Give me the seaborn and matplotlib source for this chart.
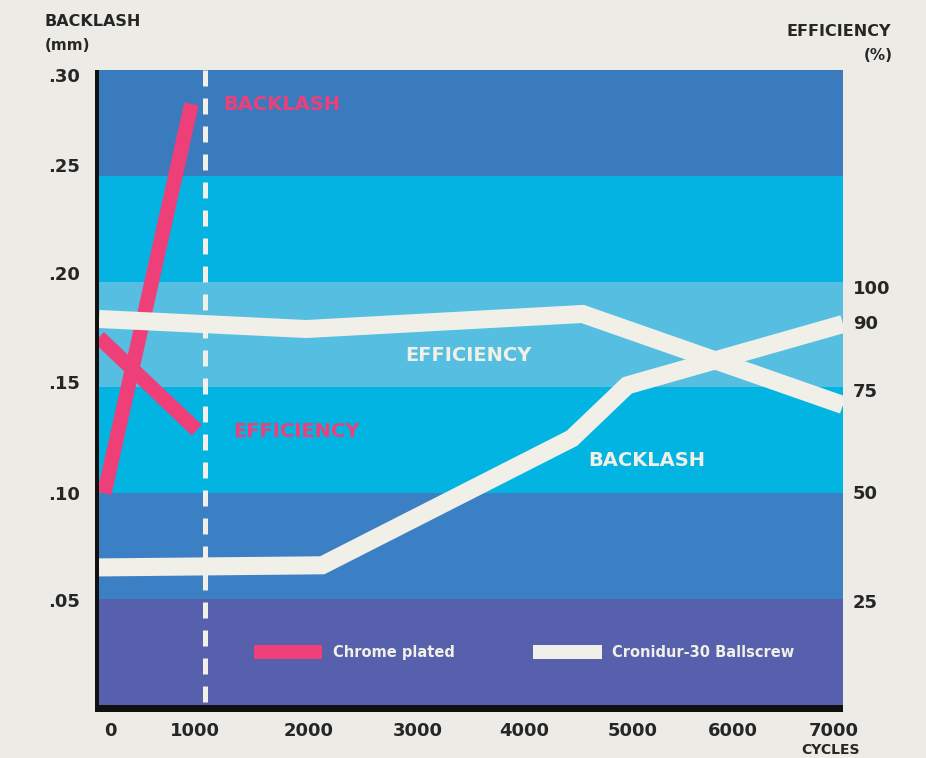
import matplotlib
matplotlib.use("Agg")
import matplotlib.pyplot as plt
from matplotlib.patches import Rectangle, Patch
from matplotlib.transforms import ScaledTranslation
import pandas as pd
import seaborn as sns

# ---- axis ticks -------------------------------------------------------------
cycle_ticks = [0, 1000, 2000, 3000, 4000, 5000, 6000, 7000]
backlash_ticks = [0.05, 0.10, 0.15, 0.20, 0.25, 0.30]
backlash_tick_labels = [".05", ".10", ".15", ".20", ".25", ".30"]
efficiency_ticks = [25, 50, 75, 90, 100]

# ---- test results -----------------------------------------------------------
chrome_backlash_cycles = [50, 870]
chrome_backlash_mm = [0.100, 0.284]
chrome_eff_cycles = [0, 920]
chrome_eff_pct = [88.0, 65.8]

cronidur_backlash_cycles = [0, 2100, 4450, 4970, 7000]
cronidur_backlash_mm = [0.065, 0.066, 0.126, 0.151, 0.180]
cronidur_eff_cycles = [0, 1950, 4550, 7000]
cronidur_eff_pct = [92.4, 90.0, 93.6, 71.8]

test_limit_cycles = 1000

# ---- background bands (bottom to top) ---------------------------------------
band_edges = [0.0, 0.05, 0.10, 0.15, 0.20, 0.25, 0.30]
band_colors = ["#5660AC", "#3B7FC4", "#02B4E1", "#56BEE1", "#04B3E2", "#3A7BBE"]

PINK = "#EE3F78"
WHITE = "#F0EFE8"
INK = "#262626"
PAPER = "#ECEBE5"

sns.set_style("white")
plt.rcParams["font.family"] = ["DejaVu Sans"]
plt.rcParams["font.weight"] = "bold"

W, H = 926, 758
fig = plt.figure(figsize=(W / 100, H / 100), dpi=100, facecolor=PAPER)

# axes box in pixel terms
x0, x1, y0, y1 = 99, 843, 70, 705
ax = fig.add_axes([x0 / W, 1 - y1 / H, (x1 - x0) / W, (y1 - y0) / H])
ax.set_zorder(2)

# dark drop edge on left and bottom of the chart panel
fig.patches.append(Rectangle((95 / W, 1 - 712 / H), (x1 - 95) / W, (712 - y0) / H,
                             transform=fig.transFigure, facecolor="#101010",
                             edgecolor="none", zorder=0))

ax.set_xlim(0, 7000)
ax.set_ylim(0, 0.30)
for lo, hi, c in zip(band_edges[:-1], band_edges[1:], band_colors):
    ax.axhspan(lo, hi, color=c, lw=0, zorder=0)

ax2 = ax.twinx()
ax2.set_ylim(0, 152)

bl = pd.DataFrame({
    "cycles": chrome_backlash_cycles + cronidur_backlash_cycles,
    "backlash": chrome_backlash_mm + cronidur_backlash_mm,
    "material": ["Chrome plated"] * len(chrome_backlash_cycles)
    + ["Cronidur-30 Ballscrew"] * len(cronidur_backlash_cycles),
})
eff = pd.DataFrame({
    "cycles": chrome_eff_cycles + cronidur_eff_cycles,
    "efficiency": chrome_eff_pct + cronidur_eff_pct,
    "material": ["Chrome plated"] * len(chrome_eff_cycles)
    + ["Cronidur-30 Ballscrew"] * len(cronidur_eff_cycles),
})

# backlash lines (left axis)
sns.lineplot(data=bl[bl.material == "Cronidur-30 Ballscrew"], x="cycles", y="backlash",
             color=WHITE, lw=13, ax=ax, legend=False, sort=False,
             solid_capstyle="butt", solid_joinstyle="miter", zorder=3)
sns.lineplot(data=bl[bl.material == "Chrome plated"], x="cycles", y="backlash",
             color=PINK, lw=10.5, ax=ax, legend=False, sort=False,
             solid_capstyle="butt", zorder=4)
# efficiency lines (right axis)
sns.lineplot(data=eff[eff.material == "Cronidur-30 Ballscrew"], x="cycles", y="efficiency",
             color=WHITE, lw=13, ax=ax2, legend=False, sort=False,
             solid_capstyle="butt", solid_joinstyle="miter", zorder=3)
sns.lineplot(data=eff[eff.material == "Chrome plated"], x="cycles", y="efficiency",
             color=PINK, lw=10.5, ax=ax2, legend=False, sort=False,
             solid_capstyle="butt", zorder=4)

# dashed marker at the end of the chrome test
ax2.plot([test_limit_cycles, test_limit_cycles], [152, 0], color=WHITE, lw=3.6,
         dashes=(3.2, 2.4), zorder=6)

for a in (ax, ax2):
    for s in a.spines.values():
        s.set_visible(False)
    a.set_xlabel("")
    a.set_ylabel("")
    a.grid(False)

ax.set_xticks(cycle_ticks, [str(c) for c in cycle_ticks])
ax.set_yticks(backlash_ticks, backlash_tick_labels)
ax2.set_yticks(efficiency_ticks, [str(e) for e in efficiency_ticks])
ax.tick_params(axis="x", length=0, pad=12, labelsize=13, labelcolor=INK)
ax.tick_params(axis="y", length=0, pad=14, labelsize=13, labelcolor=INK)
ax2.tick_params(axis="y", length=0, pad=7, labelsize=13, labelcolor=INK)


def nudge(labels, shifts, axis):
    for lbl, d in zip(labels, shifts):
        lbl.set_fontweight("bold")
        if axis == "x":
            off = ScaledTranslation(d / 100, 0, fig.dpi_scale_trans)
        else:
            off = ScaledTranslation(0, d / 100, fig.dpi_scale_trans)
        lbl.set_transform(lbl.get_transform() + off)


nudge(ax.get_xticklabels(), [11, -10, -3, 0, 0, 2, -4, -9], "x")
nudge(ax.get_yticklabels(), [-1, 0, 5, 9, 11, -5], "y")
nudge(ax2.get_yticklabels(), [0, 4, 2, 7, 0], "y")

# in-chart series labels
ax.text(1167, 0.2835, "BACKLASH", color=PINK, fontsize=14, fontweight="bold", va="center")
ax.text(1260, 0.1294, "EFFICIENCY", color=PINK, fontsize=14, fontweight="bold", va="center")
ax.text(2879, 0.1649, "EFFICIENCY", color=WHITE, fontsize=14, fontweight="bold", va="center")
ax.text(4600, 0.1153, "BACKLASH", color=WHITE, fontsize=14, fontweight="bold", va="center")

# legend
handles = [Patch(facecolor=PINK, edgecolor="none"), Patch(facecolor=WHITE, edgecolor="none")]
leg = ax2.legend(handles, ["Chrome plated", "Cronidur-30 Ballscrew"], ncol=2, frameon=False,
                 loc="center left", bbox_to_anchor=(0.208, 0.083), borderpad=0,
                 borderaxespad=0, handlelength=4.7, handleheight=1.15, handletextpad=0.7,
                 columnspacing=5.4, prop={"size": 10.5, "weight": "bold"})
for t in leg.get_texts():
    t.set_color(WHITE)

# axis titles
fig.text(45 / W, 1 - 22 / H, "BACKLASH", fontsize=11.5, fontweight="bold", color=INK,
         ha="left", va="center")
fig.text(45 / W, 1 - 45 / H, "(mm)", fontsize=11, fontweight="bold", color=INK,
         ha="left", va="center")
fig.text(787 / W, 1 - 31 / H, "EFFICIENCY", fontsize=11.5, fontweight="bold", color=INK,
         ha="left", va="center")
fig.text(893 / W, 1 - 55 / H, "(%)", fontsize=11, fontweight="bold", color=INK,
         ha="right", va="center")
fig.text(860 / W, 1 - 750 / H, "CYCLES", fontsize=10, fontweight="bold", color=INK,
         ha="right", va="center")

fig.savefig("out.png", dpi=100, facecolor=PAPER)
